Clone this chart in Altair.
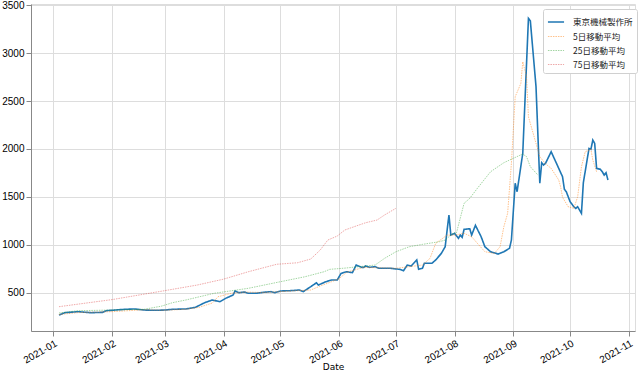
import altair as alt
import pandas as pd

SERIES = ["東京機械製作所", "5日移動平均", "25日移動平均", "75日移動平均"]
COLORS = ["#1f77b4", "#ff7f0e", "#2ca02c", "#d62728"]

price_dates = [
    "2021-01-04", "2021-01-07", "2021-01-14", "2021-01-21", "2021-01-27", "2021-01-29",
    "2021-02-08", "2021-02-13", "2021-02-18", "2021-02-24", "2021-03-01", "2021-03-05",
    "2021-03-12", "2021-03-17", "2021-03-22", "2021-03-26", "2021-03-30", "2021-04-02",
    "2021-04-06", "2021-04-07", "2021-04-09", "2021-04-12", "2021-04-14", "2021-04-18",
    "2021-04-22", "2021-04-26", "2021-04-28", "2021-05-01", "2021-05-06", "2021-05-11",
    "2021-05-13", "2021-05-17", "2021-05-20", "2021-05-21", "2021-05-25", "2021-05-28",
    "2021-05-31", "2021-06-02", "2021-06-05", "2021-06-08", "2021-06-10", "2021-06-13",
    "2021-06-14", "2021-06-15", "2021-06-17", "2021-06-20", "2021-06-22", "2021-06-28",
    "2021-07-03", "2021-07-05", "2021-07-07", "2021-07-09", "2021-07-12", "2021-07-13",
    "2021-07-15", "2021-07-16", "2021-07-20", "2021-07-22", "2021-07-25", "2021-07-27",
    "2021-07-29", "2021-07-30", "2021-08-01", "2021-08-03", "2021-08-04", "2021-08-05",
    "2021-08-06", "2021-08-09", "2021-08-10", "2021-08-12", "2021-08-15", "2021-08-17",
    "2021-08-20", "2021-08-24", "2021-08-27", "2021-08-30", "2021-08-31", "2021-09-02",
    "2021-09-03", "2021-09-06", "2021-09-09", "2021-09-10", "2021-09-13", "2021-09-15",
    "2021-09-16", "2021-09-17", "2021-09-18", "2021-09-21", "2021-09-23", "2021-09-27",
    "2021-09-28", "2021-09-29", "2021-10-01", "2021-10-03", "2021-10-04", "2021-10-05",
    "2021-10-07", "2021-10-08", "2021-10-11", "2021-10-12", "2021-10-13", "2021-10-14",
    "2021-10-15", "2021-10-17", "2021-10-18", "2021-10-19", "2021-10-20", "2021-10-21",
]
price_values = [
    265, 289, 300, 289, 293, 310,
    325, 328, 317, 314, 317, 325,
    328, 345, 394, 422, 404, 439,
    474, 516, 498, 505, 492, 492,
    502, 509, 498, 516, 519, 526,
    509, 561, 602, 578, 613, 631,
    631, 700, 717, 707, 787, 763,
    763, 777, 763, 770, 753, 753,
    742, 728, 787, 777, 840, 742,
    753, 805, 805, 840, 909, 978,
    1310, 1100, 1118, 1066, 1100, 1077,
    1160, 1166, 1100, 1202, 1083, 978,
    926, 902, 926, 962, 1048, 1641,
    1553, 1954, 3364, 3339, 2650, 1641,
    1856, 1832, 1849, 1971, 1884, 1710,
    1578, 1553, 1449, 1396, 1379, 1396,
    1327, 1647, 2006, 1996, 2093, 2058,
    1797, 1787, 1762, 1727, 1751, 1675,
]

ma5_dates = [
    "2021-01-04", "2021-01-14", "2021-02-01", "2021-02-18", "2021-03-01", "2021-03-12",
    "2021-03-19", "2021-03-26", "2021-03-29", "2021-04-05", "2021-04-12", "2021-04-22",
    "2021-05-06", "2021-05-17", "2021-05-22", "2021-05-28", "2021-06-01", "2021-06-05",
    "2021-06-14", "2021-07-01", "2021-07-08", "2021-07-15", "2021-07-19", "2021-07-22",
    "2021-07-25", "2021-07-28", "2021-08-01", "2021-08-06", "2021-08-10", "2021-08-13",
    "2021-08-17", "2021-08-22", "2021-08-25", "2021-08-27", "2021-08-29", "2021-08-31",
    "2021-09-02", "2021-09-05", "2021-09-06", "2021-09-08", "2021-09-09", "2021-09-12",
    "2021-09-15", "2021-09-18", "2021-09-21", "2021-09-25", "2021-09-26", "2021-09-27",
    "2021-09-30", "2021-10-03", "2021-10-05", "2021-10-07", "2021-10-09", "2021-10-12",
    "2021-10-13", "2021-10-15",
]
ma5_values = [
    270, 290, 300, 320, 315, 325,
    345, 390, 456, 492, 505, 500,
    515, 526, 568, 613, 645, 712,
    763, 753, 770, 787, 857, 1014,
    1056, 1100, 1100, 1118, 1083, 1014,
    926, 909, 978, 1187, 1327, 1850,
    2545, 2685, 2911, 2754, 2336, 2127,
    1919, 1845, 1797, 1675, 1605, 1495,
    1396, 1379, 1501, 1814, 1971, 1996,
    1884, 1762,
]

ma25_dates = [
    "2021-01-04", "2021-01-14", "2021-02-01", "2021-02-18", "2021-02-27", "2021-03-05",
    "2021-03-12", "2021-03-27", "2021-04-14", "2021-05-01", "2021-05-14", "2021-05-24",
    "2021-05-27", "2021-06-04", "2021-06-20", "2021-06-25", "2021-07-01", "2021-07-08",
    "2021-07-15", "2021-07-24", "2021-07-27", "2021-07-31", "2021-08-02", "2021-08-06",
    "2021-08-09", "2021-08-13", "2021-08-20", "2021-08-27", "2021-09-01", "2021-09-06",
    "2021-09-08", "2021-09-10", "2021-09-14",
]
ma25_values = [
    286, 310, 317, 325, 357, 394,
    422, 492, 544, 613, 665, 717,
    742, 755, 787, 857, 926, 978,
    1003, 1031, 1048, 1118, 1125, 1432,
    1484, 1588, 1762, 1856, 1902, 1947,
    1919, 1814, 1727,
]

ma75_dates = [
    "2021-01-04", "2021-02-01", "2021-03-01", "2021-03-18", "2021-04-01", "2021-04-14",
    "2021-04-29", "2021-05-10", "2021-05-17", "2021-05-22", "2021-05-26", "2021-05-31",
    "2021-06-04", "2021-06-10", "2021-06-15", "2021-06-21", "2021-06-25", "2021-07-01",
]
ma75_values = [
    352, 426, 520, 578, 640, 717,
    795, 811, 850, 944, 1048, 1090,
    1153, 1195, 1229, 1257, 1310, 1380,
]

rows = []
for name, ds, vs in [
    (SERIES[0], price_dates, price_values),
    (SERIES[1], ma5_dates, ma5_values),
    (SERIES[2], ma25_dates, ma25_values),
    (SERIES[3], ma75_dates, ma75_values),
]:
    for d, v in zip(ds, vs):
        rows.append({"Date": d + "T00:00:00", "value": v, "series": name})
df = pd.DataFrame(rows)

FONT = "DejaVu Sans"
JP = "Noto Sans CJK JP"

legend = alt.Legend(
    title=None, orient="none", legendX=512, legendY=5,
    fillColor="white", strokeColor="#d0d0d0", cornerRadius=2, padding=4,
    labelFont=JP, labelFontSize=8.5, labelColor="#222222",
    symbolType="stroke", symbolSize=260,
    rowPadding=1, labelOffset=8,
)

chart = alt.Chart(df).mark_line().encode(
    x=alt.X(
        "Date:T",
        title="Date",
        scale=alt.Scale(domain=[
            alt.DateTime(year=2020, month=12, date=20, hours=5),
            alt.DateTime(year=2021, month=11, date=4, hours=7),
        ]),
        axis=alt.Axis(
            format="%Y-%m", tickCount={"interval": "month", "step": 1},
            labelAngle=-30, labelAlign="right", labelBaseline="top",
            labelPadding=2, labelFlush=False, labelOverlap=False,
            titleY=35, titleBaseline="middle", titleFontWeight="normal",
            titleFont=FONT, titleFontSize=9,
        ),
    ),
    y=alt.Y(
        "value:Q", title=None,
        scale=alt.Scale(domain=[98, 3514], nice=False, zero=False),
        axis=alt.Axis(values=[500, 1000, 1500, 2000, 2500, 3000, 3500], format="d", labelPadding=2),
    ),
    color=alt.Color("series:N", scale=alt.Scale(domain=SERIES, range=COLORS), legend=legend),
    strokeWidth=alt.StrokeWidth("series:N", scale=alt.Scale(type="ordinal", domain=SERIES, range=[1.6, 0.8, 0.8, 0.8]), legend=legend),
    opacity=alt.Opacity("series:N", scale=alt.Scale(type="ordinal", domain=SERIES, range=[1.0, 0.6, 0.55, 0.5]), legend=legend),
    strokeDash=alt.StrokeDash("series:N", scale=alt.Scale(domain=SERIES, range=[[1, 0], [1.5, 1], [1.5, 1], [1.5, 1]]), legend=legend),
    detail="series:N",
).properties(
    width=604, height=327,
    autosize=alt.AutoSizeParams(type="none"),
    padding={"left": 31, "top": 4, "right": 6, "bottom": 40},
).configure_view(
    stroke="#333333", strokeWidth=1,
).configure_axis(
    labelFont=FONT, labelFontSize=9, labelColor="#222222",
    titleFont=FONT, titleFontSize=9, titleFontWeight="normal", titleColor="#222222",
    domain=False, tickColor="#333333", tickSize=3.5, tickWidth=0.8,
    gridColor="#bdbdbd", gridWidth=0.9,
).configure(background="white")

chart.save("out.html", embed_options={"renderer": "svg", "actions": False})
